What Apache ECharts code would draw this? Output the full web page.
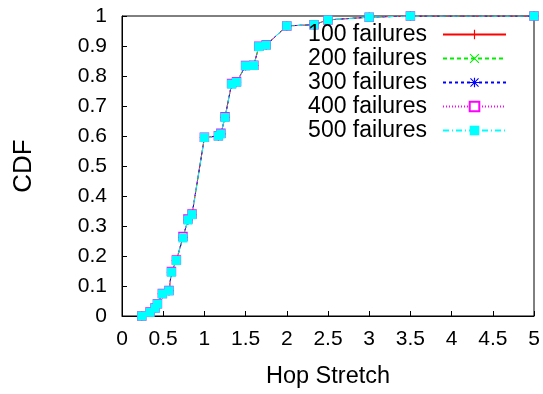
<!DOCTYPE html>
<html>
<head>
<meta charset="utf-8">
<script src="https://cdn.jsdelivr.net/npm/echarts@6/dist/echarts.min.js"></script>
<style>
  html, body { margin: 0; padding: 0; background: #fff; }
  #chart { width: 543px; height: 394px; }
</style>
</head>
<body>
<div id="chart"></div>
<script>
// hop stretch CDF, one curve per failure count
var stretch = [0.24, 0.34, 0.40, 0.43, 0.49, 0.57, 0.60, 0.66, 0.74, 0.80, 0.85, 1.0, 1.17, 1.2, 1.25, 1.33, 1.39, 1.5, 1.6, 1.66, 1.75, 2.0, 2.33, 2.5, 3.0, 3.5, 5.0];

var cdf100 = [0.0, 0.012, 0.026, 0.040, 0.074, 0.084, 0.146, 0.185, 0.262, 0.320, 0.338, 0.595, 0.600, 0.607, 0.662, 0.773, 0.779, 0.834, 0.835, 0.898, 0.903, 0.967, 0.971, 0.987, 0.996, 1.0, 1.0];
var cdf200 = [0.0, 0.012, 0.026, 0.040, 0.074, 0.084, 0.146, 0.185, 0.262, 0.320, 0.338, 0.595, 0.600, 0.607, 0.662, 0.773, 0.779, 0.834, 0.835, 0.898, 0.903, 0.967, 0.971, 0.987, 0.996, 1.0, 1.0];
var cdf300 = [0.0, 0.012, 0.026, 0.040, 0.074, 0.084, 0.146, 0.185, 0.262, 0.320, 0.338, 0.595, 0.600, 0.607, 0.662, 0.773, 0.779, 0.834, 0.835, 0.898, 0.903, 0.967, 0.971, 0.987, 0.996, 1.0, 1.0];
var cdf400 = [0.0, 0.013, 0.027, 0.041, 0.075, 0.085, 0.148, 0.187, 0.265, 0.323, 0.340, 0.596, 0.601, 0.609, 0.664, 0.775, 0.781, 0.835, 0.836, 0.899, 0.904, 0.967, 0.971, 0.987, 0.996, 1.0, 1.0];
var cdf500 = [0.0, 0.012, 0.026, 0.040, 0.074, 0.084, 0.146, 0.185, 0.260, 0.320, 0.338, 0.595, 0.600, 0.607, 0.662, 0.773, 0.779, 0.834, 0.835, 0.898, 0.903, 0.967, 0.971, 0.987, 0.996, 1.0, 1.0];

var names = ['100 failures', '200 failures', '300 failures', '400 failures', '500 failures'];

var font = 'Liberation Sans, Arial, sans-serif';

var plusPath = 'path://M4.4,0H5.6V10H4.4ZM0,4.4H10V5.6H0Z';
var crossPath = 'path://M0.8,0L5,4.2L9.2,0L10,0.8L5.8,5L10,9.2L9.2,10L5,5.8L0.8,10L0,9.2L4.2,5L0,0.8Z';
var starPath = 'path://M4.4,0H5.6V10H4.4ZM0,4.4H10V5.6H0ZM1.2,0.4L5,4.2L8.8,0.4L9.6,1.2L5.8,5L9.6,8.8L8.8,9.6L5,5.8L1.2,9.6L0.4,8.8L4.2,5L0.4,1.2Z';

function pairs(ys) {
  return stretch.map(function (x, i) { return [x, ys[i]]; });
}

function mkSeries(name, ys, color, lineType, symbol, size, itemStyle) {
  return {
    name: name,
    type: 'line',
    data: pairs(ys),
    symbol: symbol,
    symbolSize: size,
    showAllSymbol: true,
    lineStyle: { color: color, width: 1, type: lineType },
    itemStyle: itemStyle || { color: color },
    emphasis: { disabled: true }
  };
}

var chart = echarts.init(document.getElementById('chart'));
var option = {
  animation: false,
  backgroundColor: '#fff',
  grid: { left: 122, right: 9, top: 16, bottom: 76, show: true, borderColor: '#000', borderWidth: 1 },
  legend: {
    orient: 'vertical',
    right: 31,
    top: 18,
    align: 'right',
    itemWidth: 63,
    itemHeight: 12,
    itemGap: 1,
    textStyle: { fontFamily: font, fontSize: 23, color: '#000', padding: [0, 11, 0, 0] },
    data: names
  },
  xAxis: {
    type: 'value',
    min: 0, max: 5, interval: 0.5,
    name: 'Hop Stretch',
    nameLocation: 'middle',
    nameGap: 49,
    nameTextStyle: { fontFamily: font, fontSize: 23.5, color: '#000' },
    axisLine: { lineStyle: { color: '#000', width: 1 } },
    axisTick: { inside: true, length: 5, lineStyle: { color: '#000' } },
    axisLabel: { fontFamily: font, fontSize: 21, color: '#000', margin: 13 },
    splitLine: { show: false }
  },
  yAxis: {
    type: 'value',
    min: 0, max: 1, interval: 0.1,
    name: 'CDF',
    nameLocation: 'middle',
    nameGap: 85,
    nameTextStyle: { fontFamily: font, fontSize: 26, color: '#000' },
    axisLine: { lineStyle: { color: '#000', width: 1 } },
    axisTick: { inside: true, length: 5, lineStyle: { color: '#000' } },
    axisLabel: { fontFamily: font, fontSize: 21, color: '#000', margin: 15 },
    splitLine: { show: false }
  },
  series: [
    mkSeries(names[0], cdf100, '#ff0000', 'solid', plusPath, 9),
    mkSeries(names[1], cdf200, '#00ee00', [4, 3], crossPath, 8),
    mkSeries(names[2], cdf300, '#0000ff', [3, 3], starPath, 9),
    mkSeries(names[3], cdf400, '#ff00ff', [1, 2], 'rect', 8,
      { color: '#ffffff', borderColor: '#ff00ff', borderWidth: 1.5 }),
    mkSeries(names[4], cdf500, '#00ffff', [6, 3, 1, 3], 'rect', 9)
  ]
};
chart.setOption(option);
</script>
</body>
</html>
